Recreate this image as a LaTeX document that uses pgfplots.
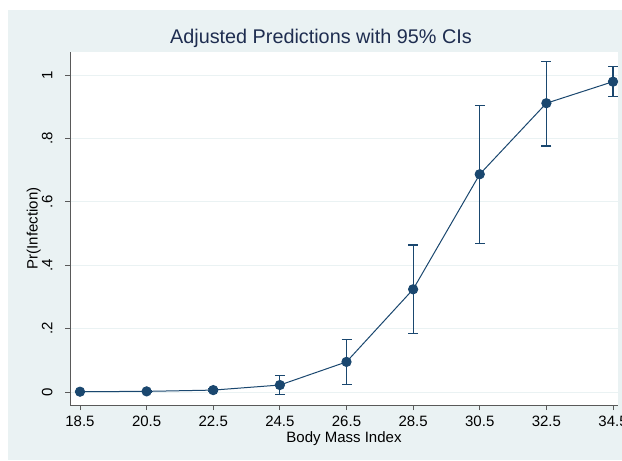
\documentclass[border=0pt]{standalone}
\usepackage{pgfplots}
\pgfplotsset{compat=1.18}
\usepackage{fontspec}
\setmainfont{Liberation Sans}
\definecolor{bgcol}{HTML}{EAF2F3}
\definecolor{navy}{HTML}{1A476F}
\definecolor{titlecol}{HTML}{1E2D50}
\definecolor{gridcol}{HTML}{EAF2F3}
\begin{document}
\begin{tikzpicture}
\fill[white] (-70bp,-56bp) rectangle (552bp,405bp);
\fill[bgcol] (-62bp,-55bp) rectangle (552bp,395bp);
\begin{axis}[
  at={(0,0)}, anchor=south west,
  scale only axis, width=548bp, height=353bp,
  xmin=18.2, xmax=34.65, ymin=-0.041, ymax=1.0726,
  axis background/.style={fill=white},
  axis x line*=bottom, axis y line*=left,
  axis line style={draw=black!65, line width=0.9bp, -},
  tick align=outside, major tick length=5bp,
  tick style={draw=black!65, line width=0.8bp},
  xtick={18.5,20.5,22.5,24.5,26.5,28.5,30.5,32.5,34.5},
  xticklabels={18.5,20.5,22.5,24.5,26.5,28.5,30.5,32.5,34.5},
  ytick={0,0.2,0.4,0.6,0.8,1},
  yticklabels={0,.2,.4,.6,.8,1},
  ymajorgrids, grid style={draw=gridcol, line width=1bp},
  ticklabel style={font=\fontsize{15bp}{18bp}\selectfont},
  yticklabel style={rotate=90, anchor=south},
  xticklabel shift=3bp, yticklabel shift=9bp,
  xlabel={Body Mass Index},
  ylabel={Pr(Infection)},
  label style={font=\fontsize{15bp}{18bp}\selectfont},
  xlabel style={at={(axis description cs:0.5,-0.096)}, anchor=center},
  ylabel style={at={(axis description cs:-0.066,0.5)}, anchor=center},
  title={Adjusted Predictions with 95\% CIs},
  title style={font=\fontsize{19.8bp}{23bp}\selectfont, color=titlecol, at={(axis description cs:0.458,1.023)}, anchor=center},
  clip=false,
]
\addplot[color=navy, line width=1bp, mark=*, mark size=4.6bp,
  mark options={fill=navy, draw=navy},
  error bars/.cd, y dir=both, y explicit,
  error bar style={line width=1.2bp, color=navy},
  error mark options={rotate=90, mark size=5bp, line width=1.2bp, color=navy}]
table[x=x, y=y, y error plus=ep, y error minus=em] {
x y ep em
18.5 0.001 0.001 0.001
20.5 0.002 0.002 0.002
22.5 0.006 0.005 0.005
24.5 0.022 0.029 0.031
26.5 0.095 0.071 0.072
28.5 0.324 0.140 0.139
30.5 0.687 0.216 0.218
32.5 0.911 0.131 0.135
34.5 0.979 0.048 0.047
};
\end{axis}
\pgfresetboundingbox
\path (-70bp,-56bp) rectangle (552bp,405bp);
\end{tikzpicture}
\end{document}
